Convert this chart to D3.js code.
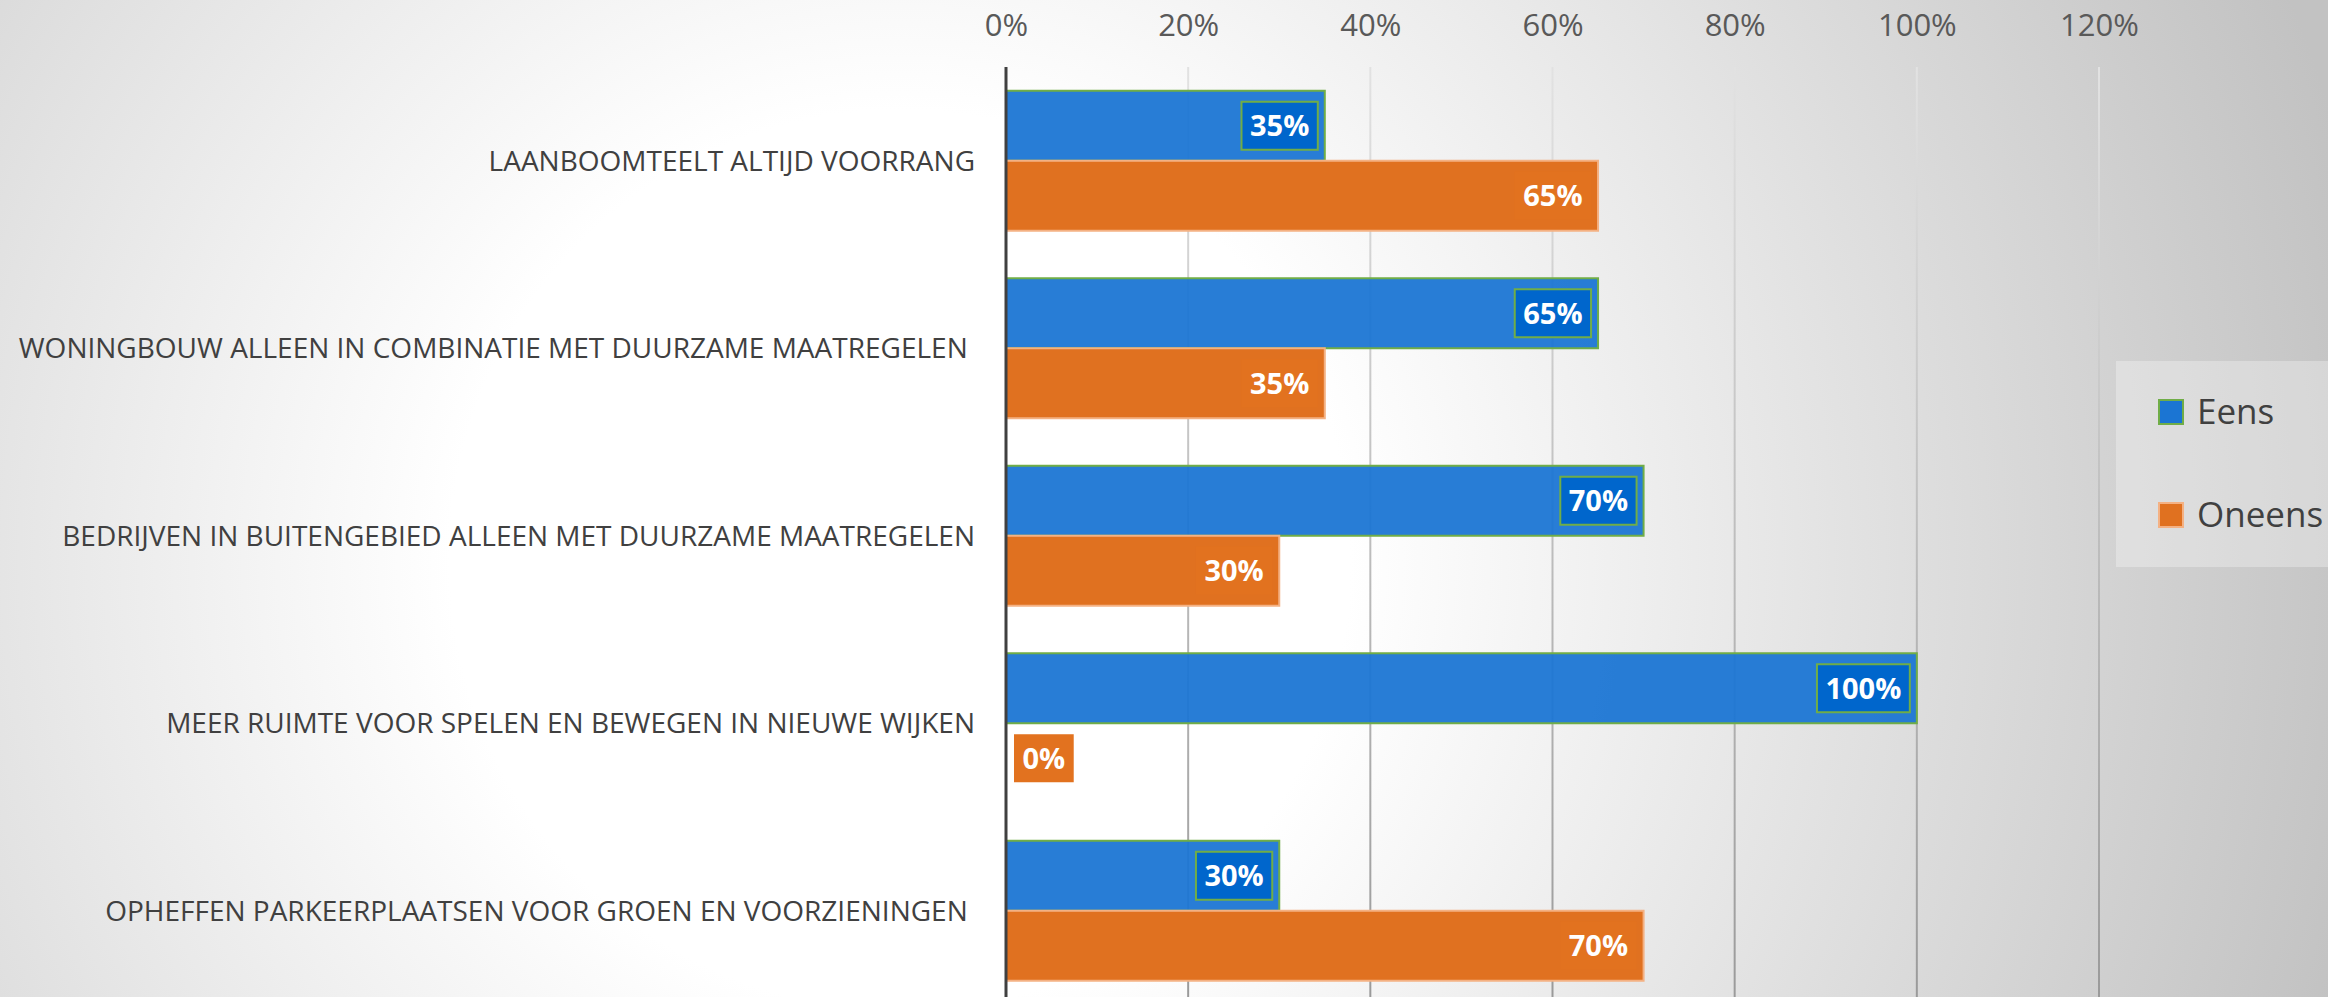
<!DOCTYPE html>
<html>
<head>
<meta charset="utf-8">
<script src="https://cdn.jsdelivr.net/npm/d3@7"></script>
<style>
  html, body { margin: 0; padding: 0; overflow: hidden; }
  text { font-family: "Open Sans", sans-serif; }
</style>
</head>
<body>
<script>
// ─── DATA ──────────────────────────────────────────────────────────────
const categories = [
  "LAANBOOMTEELT ALTIJD VOORRANG",
  "WONINGBOUW ALLEEN IN COMBINATIE MET DUURZAME MAATREGELEN ",
  "BEDRIJVEN IN BUITENGEBIED ALLEEN MET DUURZAME MAATREGELEN",
  "MEER RUIMTE VOOR SPELEN EN BEWEGEN IN NIEUWE WIJKEN",
  "OPHEFFEN PARKEERPLAATSEN VOOR GROEN EN VOORZIENINGEN "
];
const series = ["Eens", "Oneens"];
const eens   = [0.35, 0.65, 0.70, 1.00, 0.30];
const oneens = [0.65, 0.35, 0.30, 0.00, 0.70];
const xTicks = [0, 0.2, 0.4, 0.6, 0.8, 1.0, 1.2];

// ─── LAYOUT ────────────────────────────────────────────────────────────
const width  = 2328;
const height = 997;
const plotTop = 67;
const plotBottom = 1004.5;   // runs past the bottom edge, as in the picture

const colors = {
  Eens:   { fill: "#1b75d3", stroke: "#70ad47", label: "#0066cc", labelStroke: "#70ad47" },
  Oneens: { fill: "#e07120", stroke: "#f4b183", label: "#e2721f", labelStroke: "none" }
};

const svg = d3.select("body").append("svg")
  .attr("width", width)
  .attr("height", height);

// ─── BACKGROUND ────────────────────────────────────────────────────────
const defs = svg.append("defs");
const bg = defs.append("radialGradient")
  .attr("id", "bg")
  .attr("gradientUnits", "userSpaceOnUse")
  .attr("cx", 900).attr("cy", 560).attr("r", 1500);
bg.append("stop").attr("offset", 0).attr("stop-color", "#ffffff");
bg.append("stop").attr("offset", 0.3).attr("stop-color", "#ffffff");
bg.append("stop").attr("offset", 1).attr("stop-color", "#c2c2c2");

const gridGrad = defs.append("linearGradient")
  .attr("id", "grid")
  .attr("gradientUnits", "userSpaceOnUse")
  .attr("x1", 0).attr("y1", plotTop).attr("x2", 0).attr("y2", height);
gridGrad.append("stop").attr("offset", 0).attr("stop-color", "#e2e2e2");
gridGrad.append("stop").attr("offset", 1).attr("stop-color", "#9a9a9a");

svg.append("rect")
  .attr("width", width)
  .attr("height", height)
  .attr("fill", "url(#bg)");

// ─── SCALES ────────────────────────────────────────────────────────────
const x = d3.scaleLinear().domain([0, 1.2]).range([1006, 2099]);

const y = d3.scaleBand()
  .domain(categories)
  .range([plotTop, plotBottom])
  .paddingInner(0.2534)
  .paddingOuter(0.1267);

const ySub = d3.scaleBand()
  .domain(series)
  .range([0, y.bandwidth()]);

// ─── GRID + AXES ───────────────────────────────────────────────────────
svg.append("g")
  .selectAll("line")
  .data(xTicks.filter(d => d > 0))
  .join("line")
    .attr("x1", d => x(d)).attr("x2", d => x(d))
    .attr("y1", plotTop).attr("y2", plotBottom)
    .attr("stroke", "url(#grid)")
    .attr("stroke-width", 2);

const xAxis = svg.append("g")
  .attr("transform", "translate(0,36)")
  .call(d3.axisTop(x)
    .tickValues(xTicks)
    .tickFormat(d3.format(".0%"))
    .tickSize(0)
    .tickPadding(0));
xAxis.select(".domain").remove();
xAxis.selectAll("text")
  .attr("font-size", 31)
  .attr("fill", "#595959")
  .style("font-family", "'Open Sans', sans-serif");

const yAxis = svg.append("g")
  .attr("transform", "translate(975,0)")
  .call(d3.axisLeft(y).tickSize(0).tickPadding(0));
yAxis.select(".domain").remove();
yAxis.selectAll("text")
  .attr("font-size", 28)
  .attr("fill", "#404040")
  .attr("dy", "0.357em")
  .style("white-space", "pre")
  .style("font-family", "'Open Sans', sans-serif");

// ─── BARS ──────────────────────────────────────────────────────────────
const rows = categories.flatMap((c, i) => [
  { cat: c, key: "Eens",   value: eens[i] },
  { cat: c, key: "Oneens", value: oneens[i] }
]);

svg.append("g")
  .selectAll("rect")
  .data(rows)
  .join("rect")
    .attr("x", x(0))
    .attr("y", d => y(d.cat) + ySub(d.key))
    .attr("width", d => x(d.value) - x(0))
    .attr("height", ySub.bandwidth())
    .attr("fill", d => colors[d.key].fill)
    .attr("fill-opacity", d => d.key === "Eens" ? 0.94 : 1)
    .attr("stroke", d => d.value > 0 ? colors[d.key].stroke : "none")
    .attr("stroke-width", 2);

// value axis line (drawn over bar starts)
svg.append("line")
  .attr("x1", x(0)).attr("x2", x(0))
  .attr("y1", plotTop).attr("y2", plotBottom)
  .attr("stroke", "#404040")
  .attr("stroke-width", 3);

// ─── DATA LABELS ───────────────────────────────────────────────────────
const labels = svg.append("g")
  .selectAll("g")
  .data(rows)
  .join("g");

labels.each(function(d) {
  const g = d3.select(this);
  const cy = y(d.cat) + ySub(d.key) + ySub.bandwidth() / 2;
  const t = g.append("text")
    .attr("font-size", 29)
    .attr("font-weight", 700)
    .attr("fill", "#ffffff")
    .attr("text-anchor", "middle")
    .attr("dy", "0.357em")
    .text(d3.format(".0%")(d.value));
  const w = t.node().getComputedTextLength() + 17;
  const left = Math.max(x(d.value) - 7 - w, x(0) + 8);
  g.insert("rect", "text")
    .attr("x", left)
    .attr("y", cy - 24)
    .attr("width", w)
    .attr("height", 48)
    .attr("fill", colors[d.key].label)
    .attr("stroke", colors[d.key].labelStroke)
    .attr("stroke-width", 2);
  t.attr("x", left + w / 2).attr("y", cy);
});

// ─── LEGEND ────────────────────────────────────────────────────────────
const legend = svg.append("g");
legend.append("rect")
  .attr("x", 2116).attr("y", 361)
  .attr("width", 240).attr("height", 206)
  .attr("fill", "#ffffff")
  .attr("fill-opacity", 0.3);

const item = legend.selectAll("g.item")
  .data(series)
  .join("g")
    .attr("class", "item")
    .attr("transform", (d, i) => `translate(2159,${400 + i * 103})`);

item.append("rect")
  .attr("width", 24).attr("height", 24)
  .attr("fill", d => colors[d].fill)
  .attr("stroke", d => colors[d].stroke)
  .attr("stroke-width", 2);

item.append("text")
  .attr("x", 38).attr("y", 24)
  .attr("font-size", 35)
  .attr("fill", "#404040")
  .text(d => d);
</script>
</body>
</html>
